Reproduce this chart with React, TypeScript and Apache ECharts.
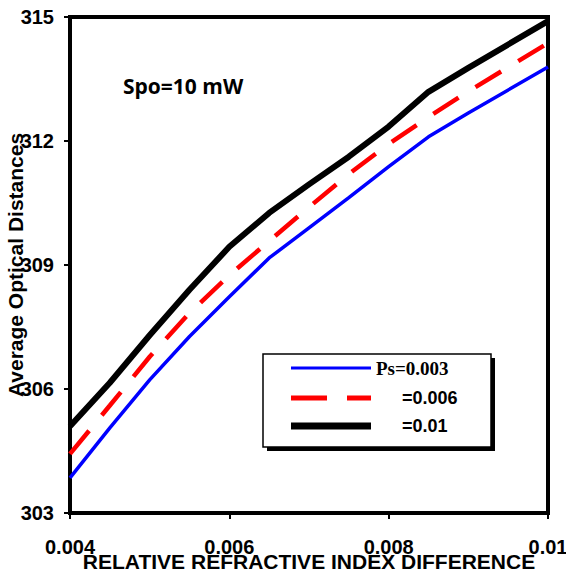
import React, { useEffect, useRef } from "react";
import * as echarts from "echarts";

const xValues = [0.004, 0.0045, 0.005, 0.0055, 0.006, 0.0065, 0.007, 0.0075, 0.008, 0.0085, 0.009, 0.01];
const ps003 = [303.85, 305.06, 306.22, 307.27, 308.23, 309.17, 309.9, 310.63, 311.38, 312.1, 312.68, 313.79];
const ps006 = [304.43, 305.6, 306.78, 307.84, 308.75, 309.58, 310.4, 311.2, 311.93, 312.58, 313.2, 314.37];
const ps01 = [305.1, 306.15, 307.3, 308.4, 309.44, 310.26, 310.95, 311.62, 312.35, 313.19, 313.77, 314.9];
const seriesNames = ["Ps=0.003", "=0.006", "=0.01"];
const xTitle = "RELATIVE REFRACTIVE INDEX DIFFERENCE";
const yTitle = "Average Optical Distances";
const annotation = "Spo=10 mW";

function pairs(ys: number[]) {
  return xValues.map((x, i) => [x, ys[i]]);
}

export default function App() {
  const ref = useRef<HTMLDivElement>(null);
  useEffect(() => {
    document.body.style.margin = "0";
    const chart = echarts.init(ref.current!, null, { renderer: "svg" });
    const sans = "'Liberation Sans', Arial, sans-serif";
    chart.setOption({
      animation: false,
      backgroundColor: "#fff",
      grid: {
        left: 70,
        right: 18,
        top: 17,
        bottom: 61,
        containLabel: false,
        outerBoundsMode: "none",
        show: true,
        borderColor: "#000",
        borderWidth: 4,
      },
      xAxis: {
        type: "value",
        min: 0.004,
        max: 0.01,
        interval: 0.002,
        splitLine: { show: false },
        axisLine: { lineStyle: { color: "#000", width: 4 } },
        axisTick: { show: true, inside: false, length: 6, lineStyle: { color: "#000", width: 2 } },
        axisLabel: {
          margin: 24,
          color: "#000",
          fontFamily: sans,
          fontWeight: "bold",
          fontSize: 20,
          formatter: (v: number) => String(+v.toFixed(3)),
        },
        name: xTitle,
        nameLocation: "middle",
        nameGap: 38,
        nameMoveOverlap: false,
        nameTextStyle: { color: "#000", fontFamily: sans, fontWeight: "bold", fontSize: 21 },
      },
      yAxis: {
        type: "value",
        min: 303,
        max: 315,
        interval: 3,
        splitLine: { show: false },
        axisLine: { lineStyle: { color: "#000", width: 4 } },
        axisTick: { show: true, inside: false, length: 6, lineStyle: { color: "#000", width: 2 } },
        axisLabel: {
          margin: 16,
          color: "#000",
          fontFamily: sans,
          fontWeight: "bold",
          fontSize: 20,
        },
        name: yTitle,
        nameLocation: "middle",
        nameGap: 44,
        nameRotate: 90,
        nameMoveOverlap: false,
        nameTextStyle: { color: "#000", fontFamily: sans, fontWeight: "bold", fontSize: 21 },
      },
      series: [
        {
          name: seriesNames[0],
          type: "line",
          data: pairs(ps003),
          showSymbol: false,
          symbol: "none",
          lineStyle: { color: "#0000ff", width: 3.5 },
        },
        {
          name: seriesNames[1],
          type: "line",
          data: pairs(ps006),
          showSymbol: false,
          symbol: "none",
          lineStyle: { color: "#ff0000", width: 4.5, type: [30, 20] },
        },
        {
          name: seriesNames[2],
          type: "line",
          data: pairs(ps01),
          showSymbol: false,
          symbol: "none",
          lineStyle: { color: "#000000", width: 6 },
        },
      ],
      graphic: [
        {
          type: "text",
          left: 123,
          top: 75,
          style: {
            text: annotation,
            fill: "#000",
            font: "bold 21px 'Open Sans', sans-serif",
          },
        },
        {
          type: "rect",
          shape: { x: 267, y: 358, width: 228, height: 93 },
          style: { fill: "#000" },
          z: 10,
        },
        {
          type: "rect",
          shape: { x: 263, y: 354, width: 228, height: 93 },
          style: { fill: "#fff", stroke: "#000", lineWidth: 1.5 },
          z: 11,
        },
        {
          type: "line",
          shape: { x1: 291, y1: 368, x2: 371, y2: 368 },
          style: { stroke: "#0000ff", lineWidth: 3 },
          z: 12,
        },
        {
          type: "line",
          shape: { x1: 291, y1: 398, x2: 371, y2: 398 },
          style: { stroke: "#ff0000", lineWidth: 5, lineDash: [36, 20] },
          z: 12,
        },
        {
          type: "line",
          shape: { x1: 291, y1: 426, x2: 371, y2: 426 },
          style: { stroke: "#000", lineWidth: 7 },
          z: 12,
        },
        {
          type: "text",
          x: 376,
          y: 368,
          style: {
            text: seriesNames[0],
            fill: "#000",
            font: "bold 19px 'Liberation Serif', 'Times New Roman', serif",
            verticalAlign: "middle",
            align: "left",
          },
          z: 12,
        },
        {
          type: "text",
          x: 402,
          y: 398,
          style: {
            text: seriesNames[1],
            fill: "#000",
            font: "bold 18px 'Liberation Sans', Arial, sans-serif",
            verticalAlign: "middle",
            align: "left",
          },
          z: 12,
        },
        {
          type: "text",
          x: 402,
          y: 426,
          style: {
            text: seriesNames[2],
            fill: "#000",
            font: "bold 18px 'Liberation Sans', Arial, sans-serif",
            verticalAlign: "middle",
            align: "left",
          },
          z: 12,
        },
      ],
    });
    return () => chart.dispose();
  }, []);
  return <div ref={ref} style={{ width: 566, height: 574 }} />;
}
